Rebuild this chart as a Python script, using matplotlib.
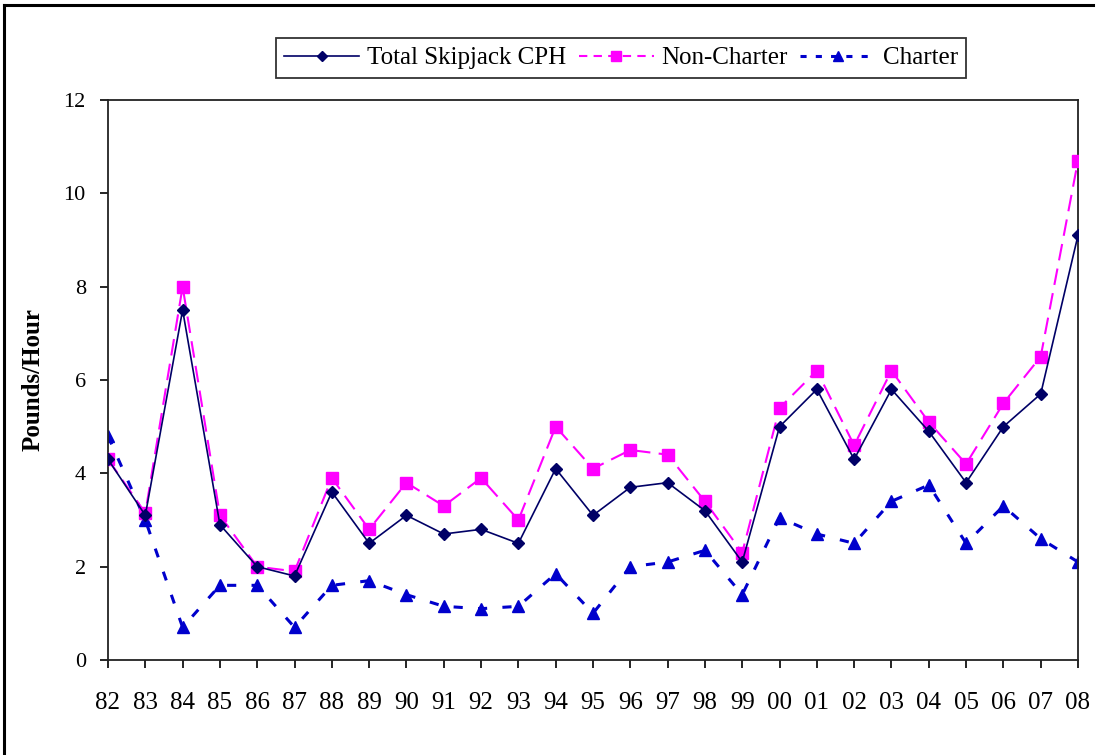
import matplotlib
matplotlib.use("Agg")
import matplotlib.pyplot as plt
from matplotlib.lines import Line2D

years = ["82", "83", "84", "85", "86", "87", "88", "89", "90", "91", "92", "93", "94",
         "95", "96", "97", "98", "99", "00", "01", "02", "03", "04", "05", "06", "07", "08"]
total = [4.3, 3.1, 7.5, 2.9, 2.0, 1.8, 3.6, 2.5, 3.1, 2.7, 2.8, 2.5, 4.1,
         3.1, 3.7, 3.8, 3.2, 2.1, 5.0, 5.8, 4.3, 5.8, 4.9, 3.8, 5.0, 5.7, 9.1]
non_charter = [4.3, 3.15, 8.0, 3.1, 2.0, 1.9, 3.9, 2.8, 3.8, 3.3, 3.9, 3.0, 5.0,
               4.1, 4.5, 4.4, 3.4, 2.3, 5.4, 6.2, 4.6, 6.2, 5.1, 4.2, 5.5, 6.5, 10.7]
charter = [4.8, 3.0, 0.7, 1.6, 1.6, 0.7, 1.6, 1.7, 1.4, 1.15, 1.1, 1.15, 1.85,
           1.0, 2.0, 2.1, 2.35, 1.4, 3.05, 2.7, 2.5, 3.4, 3.75, 2.5, 3.3, 2.6, 2.1]
y_ticks = [0, 2, 4, 6, 8, 10, 12]

plt.rcParams['font.family'] = ['Liberation Serif', 'DejaVu Serif']

W, H = 1098, 755
fig = plt.figure(figsize=(W / 100, H / 100), dpi=100)
ax = fig.add_axes([108 / W, 1 - 660 / H, (1078 - 108) / W, (660 - 100) / H])

x = list(range(len(years)))
navy = "#000066"
mag = "#FF00FF"
blue = "#0000CC"

ax.plot(x, non_charter, color=mag, lw=1.5, dashes=(8, 4), marker="s", ms=8,
        mec=mag, mfc=mag, label="Non-Charter", zorder=3)
ax.plot(x, total, color=navy, lw=1.2, marker="D", ms=6.5,
        mec=navy, mfc=navy, label="Total Skipjack CPH", zorder=4)
ax.plot(x, charter, color=blue, lw=2.2, dashes=(3, 5), marker="^", ms=8,
        mec=blue, mfc=blue, label="Charter", zorder=2)

ax.set_xlim(0, len(years) - 1)
ax.set_ylim(0, 12)
ax.set_yticks(y_ticks)
ax.set_yticklabels([str(v) for v in y_ticks], fontsize=16)
ax.set_xticks(x)
ax.set_xticklabels(years, fontsize=18)
ax.tick_params(axis="x", direction="out", length=6, width=1.2, pad=17)
ax.tick_params(axis="y", direction="out", length=6, width=1.2, pad=10)
for s in ax.spines.values():
    s.set_linewidth(1.3)
    s.set_color("#222222")
ax.set_ylabel("Pounds/Hour", fontsize=18, fontweight="bold", labelpad=14)

handles = [
    Line2D([], [], color=navy, lw=1.2, marker="D", ms=5.5, mec=navy, mfc=navy),
    Line2D([], [], color=mag, lw=1.5, dashes=(4, 3), marker="s", ms=7, mec=mag, mfc=mag),
    Line2D([], [], color=blue, lw=2.2, dashes=(2, 3), marker="^", ms=7, mec=blue, mfc=blue),
]
labels = ["Total Skipjack CPH", "Non-Charter", "Charter"]
leg = fig.legend(handles, labels, loc="center", bbox_to_anchor=(621 / W, 1 - 58 / H),
                 ncol=3, fontsize=18, frameon=True, fancybox=False,
                 handlelength=3.0, handletextpad=0.3, columnspacing=0.5,
                 borderpad=0.35, edgecolor="black")
leg.get_frame().set_linewidth(1.3)

# outer border (left and top visible)
fig.add_artist(Line2D([4 / W, 4 / W], [0, 1 - 5 / H], color="black", lw=2.2,
                      transform=fig.transFigure))
fig.add_artist(Line2D([4 / W, 1093 / W], [1 - 5 / H, 1 - 5 / H], color="black", lw=2.2,
                      transform=fig.transFigure))

fig.savefig("out.png", dpi=100)
